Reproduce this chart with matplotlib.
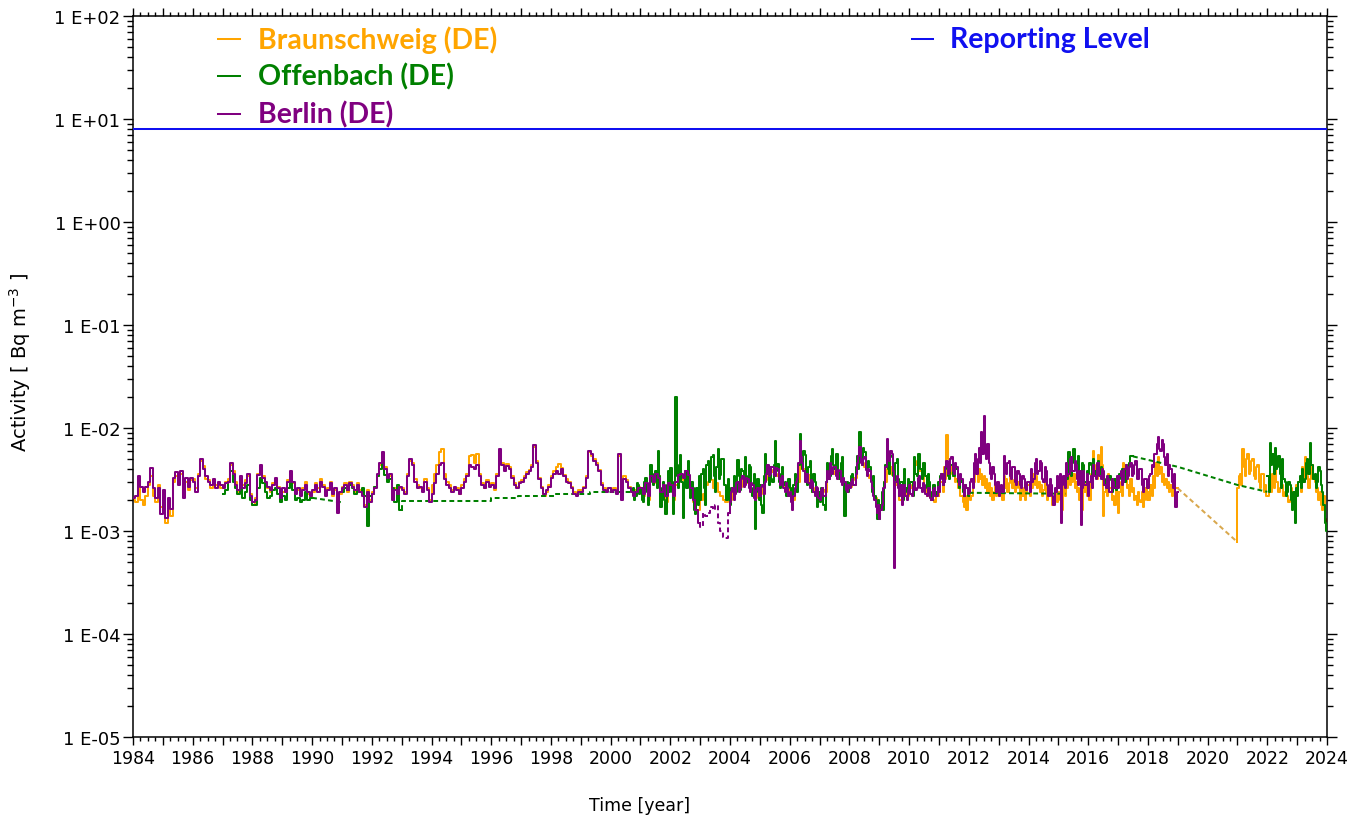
import numpy as np
import matplotlib
matplotlib.use("Agg")
import matplotlib.pyplot as plt
from matplotlib.lines import Line2D
from matplotlib.ticker import MultipleLocator, FuncFormatter, FixedLocator, NullFormatter

# Activity concentrations in mBq/m3.
# Monthly means (12 per row) for the early records, half-monthly values
# (24 per row) where the sampling became weekly.

# --- Braunschweig ---------------------------------------------------------
braunschweig_start = 1984.0
braunschweig_1984_2010 = [
    2.0, 1.9, 3.0, 2.0, 1.8, 2.2, 2.8, 3.4, 2.2, 1.9, 2.8, 1.7,
    1.5, 1.2, 1.9, 1.4, 3.0, 3.4, 3.0, 3.6, 2.3, 3.0, 2.5, 3.1,
    3.2, 2.6, 3.6, 4.8, 4.3, 3.2, 3.1, 2.6, 3.0, 2.8, 2.9, 2.6,
    2.8, 3.0, 3.2, 4.4, 3.8, 3.0, 2.4, 3.2, 2.8, 3.1, 3.4, 2.3,
    1.8, 2.1, 3.6, 4.2, 3.4, 2.8, 2.6, 2.4, 2.9, 3.1, 2.7, 2.0,
    2.4, 2.5, 3.1, 3.6, 2.9, 2.4, 2.5, 2.3, 2.6, 3.0, 2.3, 2.1,
    2.4, 2.9, 2.6, 3.2, 2.8, 2.3, 2.6, 3.0, 2.2, 2.5, 1.7, 2.3,
    2.7, 2.9, 2.4, 3.0, 2.8, 2.4, 2.9, 2.5, 2.3, 1.8, 2.5, 2.0,
    2.4, 2.7, 3.4, 4.4, 5.4, 4.2, 3.4, 3.4, 2.1, 2.6, 2.4, 2.6,
    2.6, 2.4, 3.6, 4.8, 4.6, 3.2, 2.8, 2.6, 2.5, 3.2, 2.6, 2.0,
    2.8, 3.6, 4.4, 5.8, 6.2, 3.6, 3.0, 2.8, 2.5, 2.6, 2.6, 2.3,
    2.8, 3.2, 3.6, 5.3, 5.5, 4.6, 5.6, 3.6, 2.9, 2.6, 3.1, 2.8,
    2.9, 2.5, 3.6, 6.0, 4.6, 3.9, 4.5, 4.2, 3.4, 2.9, 2.7, 3.0,
    3.1, 3.4, 3.7, 3.9, 4.4, 6.6, 4.8, 3.3, 2.7, 2.2, 2.4, 2.8,
    3.4, 3.8, 4.2, 4.5, 4.1, 3.5, 3.2, 3.0, 2.7, 2.4, 2.3, 2.5,
    2.5, 2.7, 3.4, 5.8, 5.4, 5.0, 4.6, 3.9, 2.9, 2.6, 2.5, 2.6,
    2.5, 2.6, 2.4, 5.4, 2.1, 3.4, 3.1, 2.7, 2.5, 2.3, 2.5, 2.7,
    2.4, 2.2, 2.8, 2.0, 3.2, 2.9, 3.4, 3.4, 2.2, 2.6, 1.9, 2.7,
    2.6, 2.0, 2.8, 3.3, 3.4, 3.1, 3.5, 3.2, 2.4, 1.9, 1.5, 1.6,
    2.0, 2.3, 2.8, 3.0, 3.1, 2.6, 2.9, 2.4, 2.2, 2.0, 1.9, 2.1,
    2.0, 2.4, 2.6, 2.9, 2.7, 3.1, 3.0, 2.9, 2.5, 2.4, 2.1, 2.5,
    2.3, 2.7, 3.1, 3.8, 3.9, 3.7, 3.6, 3.4, 3.0, 2.9, 2.6, 2.4,
    2.6, 2.0, 2.4, 3.0, 5.0, 4.0, 3.3, 3.5, 2.9, 2.4, 2.6, 2.3,
    2.3, 2.5, 2.4, 3.4, 4.0, 3.8, 3.6, 3.4, 3.2, 3.0, 2.7, 2.5,
    2.7, 3.1, 3.3, 4.2, 5.6, 4.6, 4.2, 3.5, 3.3, 2.7, 2.1, 1.6,
    1.8, 2.2, 3.0, 4.0, 4.2, 3.5, 2.8, 3.0, 2.0, 2.4, 2.6, 2.2,
    2.6, 2.8, 4.4, 4.8, 3.8, 3.4, 2.6, 2.2, 2.4, 2.0, 1.9, 2.2,
]
braunschweig_2011_start = 2011.0
braunschweig_2011_2018 = [
    2.4, 3.0, 3.0, 2.4, 4.2, 3.2, 8.6, 5.0, 5.0, 3.6, 4.4, 3.4, 3.6, 3.0, 3.2, 2.6, 2.6, 2.2, 2.2, 1.9, 1.7, 2.2, 1.6, 2.4,
    2.4, 2.0, 2.2, 2.8, 3.0, 3.8, 3.6, 3.0, 4.0, 3.2, 3.6, 2.8, 3.4, 2.6, 3.2, 2.4, 2.9, 2.2, 2.6, 2.0, 2.4, 2.8, 2.2, 2.6,
    2.2, 2.6, 2.4, 2.0, 3.4, 2.6, 3.2, 2.4, 2.9, 3.6, 3.4, 2.6, 3.1, 2.4, 2.6, 3.0, 2.6, 2.0, 2.8, 2.2, 2.6, 2.0, 2.4, 2.8,
    2.8, 2.2, 3.2, 2.6, 3.6, 2.8, 3.4, 2.6, 3.0, 2.4, 2.8, 2.2, 2.5, 2.9, 2.4, 2.0, 2.2, 2.6, 2.2, 1.8, 2.0, 2.4, 2.3, 1.9,
    2.4, 2.0, 2.0, 1.6, 2.8, 2.2, 3.4, 2.6, 3.8, 2.8, 4.0, 3.0, 3.6, 2.6, 3.0, 2.4, 2.6, 2.0, 2.0, 1.6, 3.2, 2.4, 3.0, 2.2,
    2.6, 2.0, 3.6, 2.8, 6.0, 4.0, 4.4, 3.2, 5.5, 3.6, 6.6, 4.4, 1.4, 2.4, 3.0, 2.2, 3.6, 2.6, 2.6, 2.0, 2.2, 1.8, 3.2, 2.4,
    1.5, 2.4, 3.0, 2.2, 4.6, 3.2, 3.6, 2.6, 2.8, 2.2, 3.2, 2.4, 2.6, 2.0, 2.2, 1.8, 2.4, 2.0, 1.9, 2.4, 1.7, 2.0, 2.6, 2.0,
    2.4, 2.0, 2.8, 2.2, 3.4, 2.6, 4.6, 3.4, 5.2, 3.6, 4.2, 3.0, 3.6, 2.8, 3.2, 2.6, 3.0, 2.4, 2.8, 2.2, 3.0, 2.4, 2.6, 2.6,
]
braunschweig_gap_years = [2019.0, 2021.0]
braunschweig_gap_values = [2.6, 0.78]
braunschweig_2021_start = 2021.0
braunschweig_2021_2023 = [
    2.6, 3.4, 3.6, 2.8, 6.2, 4.2, 3.4, 5.0, 5.6, 3.6, 3.8, 4.8, 5.0, 3.4, 3.2, 4.2, 4.4, 3.0, 2.6, 3.6, 3.6, 2.4, 2.8, 2.2,
    2.2, 2.8, 3.0, 2.4, 3.6, 2.6, 4.2, 3.0, 3.0, 2.4, 2.6, 3.2, 2.8, 2.2, 2.4, 2.9, 2.2, 1.9, 2.0, 2.6, 2.4, 2.0, 2.2, 2.8,
    2.4, 3.0, 3.0, 2.4, 4.2, 3.0, 5.2, 3.6, 3.4, 2.6, 3.2, 4.0, 4.4, 3.2, 3.0, 2.4, 2.6, 2.0, 2.4, 1.8, 1.6, 2.2, 1.3, 1.1,
]

# --- Offenbach ------------------------------------------------------------
offenbach_1987_start = 1987.0
offenbach_1987_1989 = [
    2.3, 2.5, 3.0, 3.8, 3.0, 2.6, 2.3, 2.6, 2.1, 2.4, 2.8, 2.0,
    1.8, 1.8, 2.6, 3.3, 2.9, 2.4, 2.1, 2.2, 2.5, 2.6, 2.3, 1.9,
    2.2, 2.0, 2.6, 3.3, 2.5, 2.0, 2.1, 1.9, 2.0, 2.4, 2.0, 2.1,
]
offenbach_gap1_years = [1990.0, 1991.0]
offenbach_gap1_values = [2.1, 1.9]
offenbach_1991_start = 1991.0
offenbach_1991_1992 = [
    2.4, 2.6, 2.5, 2.8, 2.6, 2.3, 2.5, 2.4, 2.6, 2.2, 1.12, 2.2,
    2.3, 2.7, 3.4, 4.0, 4.5, 3.5, 3.0, 3.2, 2.6, 1.9, 2.8, 1.6,
]
offenbach_sparse_edges = [1993.0, 1996.0, 1996.9, 1998.1, 1999.3, 2000.75]
offenbach_sparse_values = [1.95, 2.1, 2.2, 2.3, 2.4]
offenbach_2000_start = 2000.75
offenbach_2000_2011 = [
    2.6, 2.0, 2.2, 2.9, 2.8, 2.3,
    2.6, 2.0, 1.9, 3.0, 3.3, 2.4, 1.8, 2.8, 4.4, 3.0, 2.8, 3.6, 3.8, 2.6, 6.0, 3.4, 1.7, 2.6, 3.0, 2.0, 1.45, 2.8, 3.8, 2.4,
    4.1, 2.4, 1.45, 3.0, 20.0, 3.4, 2.6, 4.4, 5.5, 3.0, 1.35, 2.8, 3.8, 2.6, 4.8, 3.2, 2.1, 3.0, 2.6, 1.6, 1.45, 2.6, 1.8, 3.4,
    2.0, 3.6, 4.0, 2.6, 1.8, 4.4, 4.8, 3.0, 3.2, 5.2, 5.5, 3.4, 2.4, 4.2, 6.2, 3.2, 3.5, 5.0, 5.0, 2.8, 2.8, 2.0, 3.2, 2.2,
    1.8, 2.6, 2.6, 3.4, 3.2, 2.4, 4.9, 3.4, 2.5, 4.0, 3.8, 2.8, 5.2, 3.4, 3.0, 4.4, 4.2, 2.6, 2.2, 3.6, 1.05, 2.4, 3.2, 2.0,
    2.8, 1.8, 1.5, 3.4, 5.6, 3.6, 3.6, 2.8, 4.2, 3.2, 3.0, 4.4, 7.5, 3.8, 4.5, 3.0, 2.6, 3.6, 4.2, 2.8, 3.0, 2.2, 2.2, 3.2,
    2.6, 2.0, 1.9, 2.8, 3.6, 2.6, 2.4, 4.4, 8.8, 5.0, 4.0, 6.0, 5.5, 3.6, 2.8, 4.2, 4.8, 3.0, 2.4, 3.6, 3.0, 2.2, 1.7, 2.4,
    1.9, 2.6, 2.6, 1.8, 1.6, 3.0, 4.6, 3.2, 3.4, 5.4, 6.2, 4.4, 4.0, 5.6, 5.6, 3.8, 3.2, 4.6, 5.2, 3.0, 1.4, 2.8, 3.0, 2.4,
    2.9, 3.4, 3.6, 2.8, 2.8, 4.2, 5.4, 4.0, 9.2, 5.6, 4.4, 6.4, 5.8, 4.0, 3.6, 4.8, 4.2, 3.2, 2.4, 3.4, 2.2, 1.8, 1.3, 2.0,
    1.3, 1.8, 2.4, 1.6, 3.0, 4.4, 6.0, 4.0, 3.6, 5.4, 5.2, 3.4, 3.0, 4.6, 5.0, 3.2, 2.2, 3.0, 3.0, 2.0, 4.0, 2.6, 2.4, 3.2,
    2.4, 3.0, 3.0, 2.2, 5.2, 3.6, 3.4, 5.6, 5.6, 4.0, 3.2, 4.6, 4.6, 3.4, 2.6, 3.6, 3.0, 2.4, 2.0, 2.8, 2.8, 2.2, 2.4, 3.0,
    2.8, 3.4, 3.6, 2.8, 3.0, 4.0, 4.2, 3.4, 3.2, 4.4, 4.4, 3.4, 3.4, 4.2, 4.0, 3.0, 2.6, 3.4, 3.0, 2.4, 2.2, 2.8, 2.6, 2.2,
]
offenbach_gap2_years = [2012.0, 2015.25]
offenbach_gap2_values = [2.35, 2.3]
offenbach_2015_start = 2015.25
offenbach_2015_2017 = [
    4.2, 3.2, 5.8, 4.0, 3.4, 4.6, 6.2, 4.2, 4.6, 3.4, 5.4, 3.6, 3.8, 4.6, 4.4, 3.0, 3.0, 3.8,
    3.6, 4.6, 4.4, 3.4, 5.0, 3.8, 3.4, 4.4, 4.8, 3.6, 4.2, 3.2, 3.6, 2.8, 3.2, 2.6, 2.9, 3.4, 3.1, 2.4, 2.7, 3.2, 2.5, 3.0,
    2.8, 3.6, 3.2, 4.0, 4.0, 3.0, 4.4, 3.4, 3.6, 4.6, 5.3, 5.3,
]
offenbach_gap3_years = [2017.5, 2019.0, 2021.0, 2022.0]
offenbach_gap3_values = [5.3, 4.2, 2.8, 2.4]
offenbach_2022_start = 2022.0
offenbach_2022_2023 = [
    3.4, 2.4, 7.2, 4.4, 5.6, 3.6, 6.4, 4.0, 4.2, 5.4, 3.6, 2.6, 5.0, 3.2, 3.0, 2.2, 2.4, 3.0, 2.8, 2.0, 1.6, 2.4, 1.2, 2.6,
    2.2, 3.0, 3.4, 2.6, 4.0, 3.0, 3.2, 4.6, 5.0, 3.6, 7.2, 4.4, 4.4, 3.2, 3.6, 2.6, 3.0, 4.2, 3.8, 2.8, 2.4, 1.8, 1.2, 1.0,
]

# --- Berlin ---------------------------------------------------------------
berlin_start = 1984.0
berlin_1984_2002 = [
    2.1, 2.2, 3.4, 2.7, 2.4, 2.7, 3.0, 4.1, 2.6, 2.1, 2.6, 1.45,
    2.5, 1.35, 2.1, 1.65, 3.3, 3.7, 2.8, 3.8, 2.1, 3.3, 2.7, 3.3,
    3.0, 2.4, 3.4, 5.0, 4.0, 3.4, 3.0, 2.8, 3.2, 2.6, 3.0, 2.8,
    2.6, 2.9, 3.0, 4.6, 3.6, 2.8, 2.5, 3.4, 2.6, 2.9, 3.6, 2.2,
    1.9, 2.0, 3.5, 4.4, 3.3, 3.0, 2.7, 2.5, 2.8, 3.3, 2.6, 2.1,
    2.6, 2.4, 3.0, 3.8, 3.0, 2.3, 2.6, 2.2, 2.5, 2.8, 2.4, 2.2,
    2.5, 2.8, 2.4, 3.0, 2.7, 2.2, 2.5, 2.9, 2.3, 2.6, 1.5, 2.4,
    2.6, 2.8, 2.5, 2.9, 2.7, 2.5, 2.8, 2.4, 2.2, 1.7, 2.4, 1.9,
    2.3, 2.6, 3.6, 4.6, 5.8, 4.0, 3.3, 3.6, 2.0, 2.5, 2.3, 2.7,
    2.5, 2.3, 3.4, 5.0, 4.4, 3.0, 2.6, 2.7, 2.4, 3.0, 2.5, 1.9,
    2.3, 2.9, 3.6, 4.4, 4.6, 3.2, 2.8, 2.6, 2.4, 2.7, 2.5, 2.3,
    2.6, 3.0, 3.4, 4.4, 4.2, 4.0, 4.4, 3.4, 2.8, 2.6, 3.0, 2.7,
    2.8, 2.6, 3.4, 6.3, 4.4, 3.8, 4.3, 4.0, 3.3, 2.8, 2.6, 2.9,
    3.0, 3.3, 3.6, 3.8, 4.2, 6.8, 4.6, 3.2, 2.6, 2.3, 2.5, 2.7,
    3.3, 3.6, 3.8, 3.6, 4.0, 3.4, 3.0, 2.9, 2.6, 2.3, 2.2, 2.4,
    2.4, 2.6, 3.3, 6.0, 5.6, 4.8, 4.4, 3.8, 2.8, 2.5, 2.4, 2.6,
    2.4, 2.5, 2.3, 5.6, 2.0, 3.2, 3.0, 2.6, 2.4, 2.2, 2.4, 2.6,
    2.6, 2.3, 2.9, 2.2, 3.4, 3.0, 3.6, 3.3, 2.4, 2.8, 2.2, 2.9,
    2.8, 2.2, 3.0, 3.5, 3.6, 3.3, 3.8, 3.5, 2.6, 2.0, 1.6, 1.2,
]
berlin_2003_start = 2003.0
berlin_2003_provisional = [1.1, 1.5, 1.4, 1.5, 1.7, 1.6, 1.8, 1.2, 1.0, 0.88, 0.86, 1.5]
berlin_2004_start = 2004.0
berlin_2004_2018 = [
    1.9, 2.4, 2.6, 2.0, 2.3, 2.9, 3.0, 2.4, 2.6, 3.2, 3.4, 2.7, 2.8, 3.3, 3.2, 2.6, 2.4, 2.9, 2.8, 2.1, 2.0, 2.5, 2.6, 2.2,
    2.2, 2.7, 2.8, 2.3, 3.0, 3.6, 4.4, 3.4, 3.6, 4.2, 4.2, 3.5, 3.4, 4.1, 4.0, 3.2, 2.8, 3.3, 3.4, 2.6, 2.4, 2.9, 2.6, 2.2,
    2.4, 1.9, 1.6, 2.2, 2.6, 3.0, 3.2, 4.6, 7.5, 5.2, 4.6, 3.8, 3.0, 3.6, 3.6, 2.9, 2.6, 3.1, 3.0, 2.4, 2.2, 2.7, 2.6, 2.1,
    2.0, 2.5, 2.6, 2.2, 2.2, 3.0, 3.8, 3.2, 4.6, 3.8, 3.6, 4.2, 4.2, 3.4, 3.2, 3.9, 3.8, 3.0, 2.8, 3.3, 3.0, 2.5, 2.4, 2.8,
    2.6, 3.0, 3.2, 2.8, 2.8, 3.6, 4.6, 5.4, 6.6, 4.6, 4.4, 5.0, 5.2, 3.9, 3.4, 4.0, 3.8, 3.0, 2.6, 2.2, 2.0, 1.7, 1.5, 1.8,
    1.3, 1.6, 1.8, 2.6, 2.6, 4.2, 7.8, 5.6, 4.8, 6.0, 5.6, 3.8, 0.44, 3.0, 3.4, 2.6, 2.2, 2.8, 1.8, 2.2, 2.8, 2.2, 2.0, 2.5,
    2.8, 2.3, 2.2, 2.7, 3.0, 2.5, 2.6, 3.3, 3.4, 2.6, 2.4, 2.9, 2.8, 2.3, 2.2, 2.6, 2.6, 2.1, 2.0, 2.5, 2.6, 2.2, 2.2, 2.7,
    2.4, 3.2, 3.6, 2.8, 3.0, 4.2, 4.8, 3.6, 3.8, 5.0, 5.2, 3.8, 3.6, 4.6, 4.2, 3.2, 2.8, 3.6, 3.2, 2.6, 2.2, 2.8, 2.6, 2.3,
    2.4, 3.0, 3.2, 2.6, 4.6, 5.6, 3.6, 5.0, 6.4, 4.6, 9.2, 5.6, 13.0, 6.2, 5.0, 7.0, 4.6, 3.6, 3.2, 4.2, 3.6, 2.8, 2.4, 3.0,
    2.2, 2.7, 2.8, 2.4, 5.4, 3.8, 3.6, 4.6, 4.8, 3.4, 3.2, 4.2, 4.2, 3.0, 2.8, 3.8, 3.6, 2.8, 2.6, 3.4, 3.2, 2.6, 2.5, 3.0,
    3.0, 2.4, 4.0, 3.0, 3.2, 4.6, 5.0, 3.6, 3.8, 4.8, 4.6, 3.2, 3.0, 4.2, 3.8, 2.8, 2.2, 3.2, 2.8, 2.2, 1.8, 2.6, 2.4, 3.4,
    2.6, 3.6, 1.2, 2.8, 3.4, 2.6, 4.6, 3.4, 3.6, 5.0, 5.2, 3.8, 3.8, 4.8, 4.4, 3.2, 2.8, 3.8, 1.15, 2.6, 3.8, 2.8, 2.8, 3.6,
    2.2, 3.0, 3.4, 2.6, 4.4, 3.4, 3.2, 4.6, 4.6, 3.4, 3.2, 4.0, 3.8, 2.8, 2.6, 3.4, 3.2, 2.4, 2.4, 3.2, 3.0, 2.6, 2.6, 3.4,
    2.6, 3.4, 3.8, 2.8, 3.0, 4.0, 4.4, 3.2, 3.4, 4.2, 4.6, 3.4, 3.6, 4.4, 4.8, 3.2, 3.2, 4.0, 4.0, 2.8, 2.4, 3.2, 3.2, 2.6,
    2.6, 3.4, 3.6, 4.4, 4.2, 5.6, 5.6, 7.0, 8.2, 6.2, 6.0, 7.6, 7.0, 5.2, 4.4, 5.6, 3.4, 4.4, 4.0, 3.0, 2.6, 3.6, 1.7, 2.4,
]

reporting_level = 8.0  # Bq/m3

series_names = ["Braunschweig (DE)", "Offenbach (DE)", "Berlin (DE)"]
series_colors = ["#FFA500", "#008000", "#800080"]
reporting_name = "Reporting Level"
reporting_color = "#1010F0"

MBQ = 1e-3
LW = 1.45
DASH = (0, (2.4, 1.6))


def steps(ax, t0, values, color, z, per_year=12, ls="-", lead=None):
    v = np.asarray(values, float) * MBQ
    x = t0 + np.arange(len(v) + 1) / float(per_year)
    y = np.append(v, v[-1])
    if lead is not None:
        x = np.insert(x, 0, t0)
        y = np.insert(y, 0, lead * MBQ)
    ax.plot(x, y, drawstyle="steps-post", color=color, lw=LW, ls=ls, zorder=z)


def edge_steps(ax, edges, values, color, z, ls="-", lead=None):
    v = np.asarray(values, float) * MBQ
    x = np.asarray(edges, float)
    y = np.append(v, v[-1])
    if lead is not None:
        x = np.insert(x, 0, x[0])
        y = np.insert(y, 0, lead * MBQ)
    ax.plot(x, y, drawstyle="steps-post", color=color, lw=LW, ls=ls, zorder=z)


def connector(ax, years, values, color, z):
    ax.plot(years, np.asarray(values, float) * MBQ, color=color, lw=LW, ls=DASH, zorder=z)


W, H = 1364, 820
fig = plt.figure(figsize=(W / 100, H / 100), dpi=100)
ax = fig.add_axes([133 / W, 1 - 738 / H, (1327 - 133) / W, (738 - 17) / H])

c_bs, c_of, c_be = series_colors

# Braunschweig
steps(ax, braunschweig_start, braunschweig_1984_2010, c_bs, 2)
steps(ax, braunschweig_2011_start, braunschweig_2011_2018, c_bs, 2, per_year=24,
      lead=braunschweig_1984_2010[-1])
connector(ax, braunschweig_gap_years, braunschweig_gap_values, "#D9A84E", 2)
steps(ax, braunschweig_2021_start, braunschweig_2021_2023, c_bs, 2, per_year=24,
      lead=braunschweig_gap_values[-1])

# Offenbach
steps(ax, offenbach_1987_start, offenbach_1987_1989, c_of, 3)
connector(ax, offenbach_gap1_years, offenbach_gap1_values, c_of, 3)
steps(ax, offenbach_1991_start, offenbach_1991_1992, c_of, 3)
edge_steps(ax, offenbach_sparse_edges, offenbach_sparse_values, c_of, 3, ls=DASH,
           lead=offenbach_1991_1992[-1])
steps(ax, offenbach_2000_start, offenbach_2000_2011, c_of, 3, per_year=24,
      lead=offenbach_sparse_values[-1])
connector(ax, offenbach_gap2_years, offenbach_gap2_values, c_of, 3)
steps(ax, offenbach_2015_start, offenbach_2015_2017, c_of, 3, per_year=24)
connector(ax, offenbach_gap3_years, offenbach_gap3_values, c_of, 3)
steps(ax, offenbach_2022_start, offenbach_2022_2023, c_of, 3, per_year=24)

# Berlin
steps(ax, berlin_start, berlin_1984_2002, c_be, 4)
steps(ax, berlin_2003_start, berlin_2003_provisional, c_be, 4, ls=DASH,
      lead=berlin_1984_2002[-1])
steps(ax, berlin_2004_start, berlin_2004_2018, c_be, 4, per_year=24,
      lead=berlin_2003_provisional[-1])

ax.axhline(reporting_level, color=reporting_color, lw=LW, zorder=5)

# Axes, scales and ticks
ax.set_yscale("log")
ax.set_xlim(1984, 2024)
ax.set_ylim(1e-5, 1e2)
ax.xaxis.set_major_locator(MultipleLocator(1))
ax.xaxis.set_minor_locator(MultipleLocator(0.25))
ax.xaxis.set_major_formatter(
    FuncFormatter(lambda v, p: f"{int(round(v))}" if int(round(v)) % 2 == 0 else ""))

decades = np.arange(-5, 3)
ax.yaxis.set_major_locator(FixedLocator(10.0 ** decades))
ax.yaxis.set_minor_locator(
    FixedLocator([m * 10.0 ** d for d in decades[:-1] for m in range(2, 10)]))
ax.yaxis.set_minor_formatter(NullFormatter())
ax.yaxis.set_major_formatter(
    FuncFormatter(lambda v, p: "1 E{:+03d}".format(int(round(np.log10(v))))))

for s in ax.spines.values():
    s.set_linewidth(1.1)
ax.tick_params(which="both", direction="out", top=True, right=True,
               labeltop=False, labelright=False, width=1.0, colors="black")
ax.tick_params(axis="x", which="major", length=6, pad=3, labelsize=12.5)
ax.tick_params(axis="x", which="minor", length=3)
ax.tick_params(axis="y", which="major", length=7, pad=2, labelsize=13)
ax.tick_params(axis="y", which="minor", length=4)

fig.text(20 / W, 1 - 362 / H, "Activity [ Bq m$^{-3}$ ]", rotation=90,
         ha="center", va="center", fontsize=14)
fig.text(640 / W, 1 - 806 / H, "Time [year]", ha="center", va="center", fontsize=12.5)

# Legend entries
legend_font = dict(family="Lato", weight="bold", fontsize=20.5)
rows = [40, 77, 115]
for name, col, yy in zip(series_names, series_colors, rows):
    fig.add_artist(Line2D([218 / W, 240 / W], [1 - yy / H] * 2, color=col, lw=LW))
    fig.text(258 / W, 1 - yy / H, name, color=col, ha="left", va="center", **legend_font)
fig.add_artist(Line2D([912 / W, 933 / W], [1 - 40 / H] * 2, color=reporting_color, lw=LW))
fig.text(950 / W, 1 - 40 / H, reporting_name, color=reporting_color, ha="left",
         va="center", **legend_font)

fig.savefig("out.png", dpi=100)
